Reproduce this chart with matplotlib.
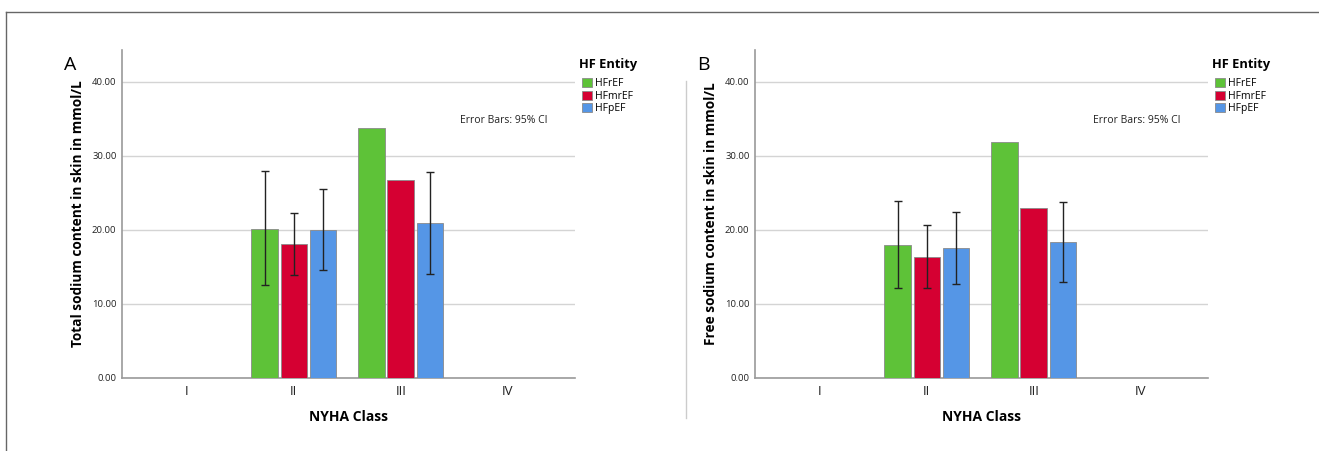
import numpy as np
import matplotlib
matplotlib.use("Agg")
import matplotlib.pyplot as plt
from matplotlib.patches import Patch

plt.rcParams['font.family'] = ['Open Sans', 'DejaVu Sans']

# data (NaN = no bar / no error bar)
classes = ['I', 'II', 'III', 'IV']
entities = ['HFrEF', 'HFmrEF', 'HFpEF']
colors = ['#5ec238', '#d50032', '#5596e6']

total_hfref = [np.nan, 20.1, 33.8, np.nan]
total_hfmref = [np.nan, 18.1, 26.8, np.nan]
total_hfpef = [np.nan, 20.0, 20.9, np.nan]
total_lo_hfref = [np.nan, 12.5, np.nan, np.nan]
total_hi_hfref = [np.nan, 27.9, np.nan, np.nan]
total_lo_hfmref = [np.nan, 13.9, np.nan, np.nan]
total_hi_hfmref = [np.nan, 22.3, np.nan, np.nan]
total_lo_hfpef = [np.nan, 14.6, 14.1, np.nan]
total_hi_hfpef = [np.nan, 25.5, 27.8, np.nan]

free_hfref = [np.nan, 18.0, 31.9, np.nan]
free_hfmref = [np.nan, 16.35, 23.0, np.nan]
free_hfpef = [np.nan, 17.6, 18.4, np.nan]
free_lo_hfref = [np.nan, 12.1, np.nan, np.nan]
free_hi_hfref = [np.nan, 23.9, np.nan, np.nan]
free_lo_hfmref = [np.nan, 12.1, np.nan, np.nan]
free_hi_hfmref = [np.nan, 20.7, np.nan, np.nan]
free_lo_hfpef = [np.nan, 12.7, 12.9, np.nan]
free_hi_hfpef = [np.nan, 22.4, 23.8, np.nan]

y_ticks = [0, 10, 20, 30, 40]


def draw_panel(ax, means, los, his, ylabel, letter):
	x = np.arange(len(classes))
	step = 0.272
	width = 0.248
	for i in range(len(entities)):
		m = np.array(means[i], dtype=float)
		lo = np.array(los[i], dtype=float)
		hi = np.array(his[i], dtype=float)
		pos = x + (i - 1) * step
		ok = ~np.isnan(m)
		ax.bar(pos[ok], m[ok], width=width, color=colors[i],
			   edgecolor='#8a8a8a', linewidth=0.6, zorder=3)
		e = ~np.isnan(lo)
		ax.errorbar(pos[e], m[e], yerr=[m[e] - lo[e], hi[e] - m[e]], fmt='none',
					ecolor='#222222', elinewidth=1.0, capsize=3.2, capthick=1.0, zorder=4)
	ax.set_xlim(-0.607, 3.63)
	ax.set_ylim(0, 44.3)
	ax.set_yticks(y_ticks)
	ax.set_yticklabels(['%.2f' % t for t in y_ticks], fontsize=6.8, color='#222222')
	ax.set_xticks(x)
	ax.set_xticklabels(classes, fontsize=9.5, color='#222222')
	ax.tick_params(length=0, pad=4)
	ax.tick_params(axis='x', pad=5)
	ax.grid(axis='y', color='#d4d4d4', linewidth=1.0, zorder=0)
	ax.set_axisbelow(True)
	for s in ['top', 'right']:
		ax.spines[s].set_visible(False)
	for s in ['left', 'bottom']:
		ax.spines[s].set_color('#9a9a9a')
		ax.spines[s].set_linewidth(1.2)
	ax.set_xlabel('NYHA Class', fontsize=10, fontweight='bold', labelpad=9)
	ax.set_ylabel(ylabel, fontsize=9.8, fontweight='bold', labelpad=5)
	ax.text(0.746, 0.785, 'Error Bars: 95% CI', transform=ax.transAxes,
			fontsize=7.5, color='#222222', va='center')
	ax.text(-0.128, 0.955, letter, transform=ax.transAxes, fontsize=14, va='center')
	ax.text(1.01, 0.956, 'HF Entity', transform=ax.transAxes, fontsize=9.3,
			fontweight='bold', va='center', ha='left')
	handles = [Patch(facecolor=colors[i], edgecolor='#8a8a8a', linewidth=0.6, label=entities[i])
			   for i in range(len(entities))]
	ax.legend(handles=handles, loc='upper left', bbox_to_anchor=(1.0, 0.937),
			  frameon=False, fontsize=7.5, handlelength=0.95, handleheight=0.95,
			  handletextpad=0.25, labelspacing=0.15, borderaxespad=0.3)


fig = plt.figure(figsize=(13.19, 4.51), dpi=100)
ax1 = fig.add_axes([0.0925, 0.1619, 0.3434, 0.7273])
ax2 = fig.add_axes([0.5724, 0.1619, 0.3434, 0.7273])

draw_panel(ax1, [total_hfref, total_hfmref, total_hfpef],
		   [total_lo_hfref, total_lo_hfmref, total_lo_hfpef],
		   [total_hi_hfref, total_hi_hfmref, total_hi_hfpef],
		   'Total sodium content in skin in mmol/L', 'A')
draw_panel(ax2, [free_hfref, free_hfmref, free_hfpef],
		   [free_lo_hfref, free_lo_hfmref, free_lo_hfpef],
		   [free_hi_hfref, free_hi_hfmref, free_hi_hfpef],
		   'Free sodium content in skin in mmol/L', 'B')

# outer frame lines and the divider between panels
fig.add_artist(plt.Line2D([6 / 1319, 1], [1 - 12 / 451, 1 - 12 / 451], color='#666666', linewidth=1.0))
fig.add_artist(plt.Line2D([6 / 1319, 6 / 1319], [0, 1 - 12 / 451], color='#666666', linewidth=1.0))
fig.add_artist(plt.Line2D([686 / 1319, 686 / 1319], [1 - 418 / 451, 1 - 81 / 451], color='#cccccc', linewidth=1.0))

fig.savefig('out.png', dpi=100)
